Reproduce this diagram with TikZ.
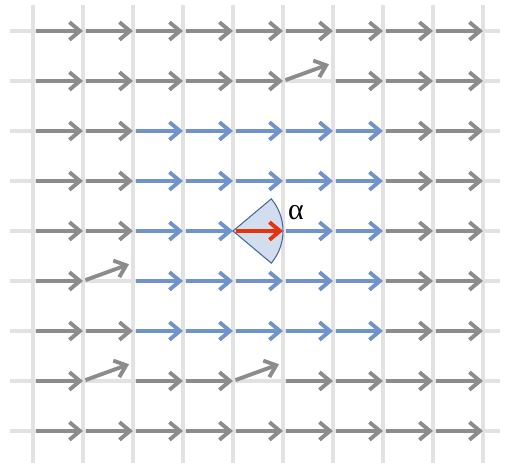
\documentclass[tikz,border=0pt]{standalone}
\usepackage{fontspec}
\newfontfamily\labelfont{Liberation Serif}
\usetikzlibrary{arrows.meta}
\definecolor{gridgray}{HTML}{E2E2E2}
\definecolor{vecgray}{HTML}{8C8C8C}
\definecolor{vecblue}{HTML}{7094CA}
\definecolor{vecred}{HTML}{E5330F}
\definecolor{wedgefill}{HTML}{D2DDED}
\definecolor{wedgeedge}{HTML}{46689A}
\begin{document}
\begin{tikzpicture}
        \tikzstyle{gridline} = [gridgray, line width=2.4pt]
        \tikzstyle{vec} = [-{Straight Barb[length=6pt, width=10pt]}, line width=2.2pt, shorten <=1.5pt]
        \useasboundingbox (-0.66, -0.74) rectangle (9.46, 8.62);
        % lattice
        \foreach \i in {0,...,9} \draw[gridline] (\i, -0.64) -- (\i, 8.52);
        \foreach \j in {0,...,8} \draw[gridline] (-0.46, \j) -- (9.34, \j);
        \foreach \i in {0,...,9} \foreach \j in {0,...,8} \coordinate (p\i\j) at (\i, \j);
        % spins
        \foreach \j/\cols in {8/{0,...,8}, 7/{0,1,2,3,4,6,7,8}, 6/{0,1,7,8}, 5/{0,1,7,8}, 4/{0,1,7,8},
                              3/{0,7,8}, 2/{0,1,7,8}, 1/{0,2,3,5,6,7,8}, 0/{0,...,8}}
          \foreach \i in \cols {
            \pgfmathtruncatemacro\k{\i+1}
            \draw[vec, vecgray] (p\i\j) -- (p\k\j);
          }
        \foreach \j/\cols in {6/{2,...,6}, 5/{2,...,6}, 4/{2,3,5,6}, 3/{2,...,6}, 2/{2,...,6}}
          \foreach \i in \cols {
            \pgfmathtruncatemacro\k{\i+1}
            \draw[vec, vecblue] (p\i\j) -- (p\k\j);
          }
        % tilted spins
        \foreach \i/\j in {5/7, 1/3, 1/1, 4/1} {
          \coordinate (tip\i\j) at ([shift={(20:0.98)}]p\i\j);
          \draw[vec, vecgray] (p\i\j) -- (tip\i\j);
        }
        % cone
        \filldraw[fill=wedgefill, draw=wedgeedge, line width=0.6pt] (p44) -- ++(-40:1) arc (-40:40:1) -- cycle;
        \draw[vec, vecred] (p44) -- (p54);
        \node (alpha) at (5.26, 4.36) {\labelfont\fontsize{17}{20}\selectfont α};
\end{tikzpicture}
\end{document}
